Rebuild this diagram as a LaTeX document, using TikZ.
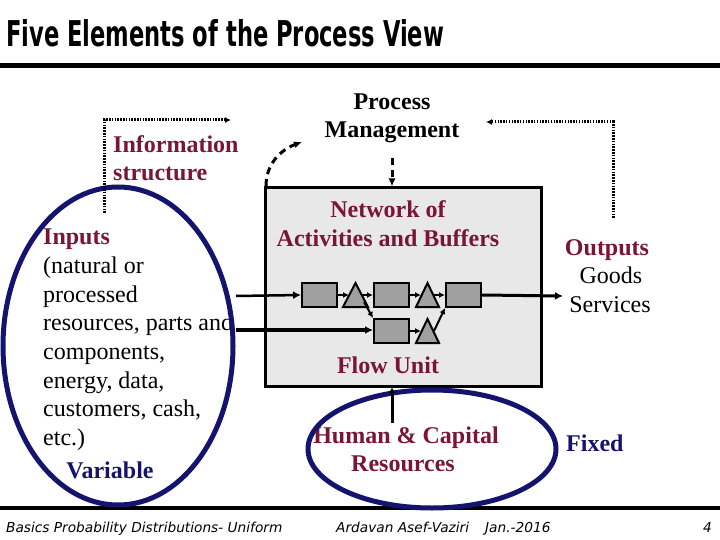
\documentclass[tikz,border=0pt]{standalone}
\usepackage{fontspec}
\setmainfont{Liberation Serif}
\newfontfamily\titlef{DejaVu Sans}
\newfontfamily\footf{DejaVu Sans}
\usetikzlibrary{arrows.meta}
\definecolor{maroon}{RGB}{122,22,52}
\definecolor{navyb}{RGB}{20,20,110}
\definecolor{boxgray}{RGB}{232,232,232}
\definecolor{flowgray}{RGB}{160,160,160}
\tikzset{
  lbl/.style={anchor=base, inner sep=0pt, font=\fontsize{24}{28}\selectfont},
  red/.style={lbl, text=maroon, font=\fontsize{24}{28}\selectfont\bfseries},
  blk/.style={lbl, text=black},
  bblk/.style={lbl, text=black, font=\fontsize{24}{28}\selectfont\bfseries},
  nav/.style={lbl, text=navyb, font=\fontsize{24}{28}\selectfont\bfseries},
  foot/.style={anchor=base west, inner sep=0pt, font=\footf\itshape\fontsize{13.7}{16}\selectfont},
  act/.style={draw=black, line width=2pt, fill=flowgray, minimum width=35pt, minimum height=24pt, inner sep=0pt},
  buf/.style={draw=black, line width=2pt, fill=flowgray},
  fa/.style={-{Latex[length=6pt,width=6pt]}, line width=2pt},
  ma/.style={-{Latex[length=8pt,width=8pt]}, line width=3pt},
  dots/.style={line width=3pt, dash pattern=on 1.5pt off 1.3pt},
  dsh/.style={line width=3pt, dash pattern=on 7pt off 5pt},
  oval/.style={draw=navyb, line width=5pt}
}
\begin{document}
\begin{tikzpicture}[x=1pt,y=-1pt]
\useasboundingbox (0,0) rectangle (720,540);
% title
\node[anchor=base west, inner sep=0pt] (title) at (6,47) {\resizebox{438pt}{27pt}{\titlef\bfseries Five Elements of the Process View}};
\draw[line width=5pt] (0,66) -- (720,66);
\draw[line width=4.5pt] (0,508) -- (720,508);
% footer
\node[foot] (f1) at (6,532) {Basics Probability Distributions- Uniform};
\node[foot] (f2) at (336,532) {Ardavan Asef-Vaziri};
\node[foot] (f3) at (485,532) {Jan.-2016};
\node[foot] (f4) at (703,532) {4};
% gray box
\node[draw=black, line width=3pt, fill=boxgray, minimum width=276pt, minimum height=198pt, inner sep=0pt] (box) at (403,287) {};
\node[red] (net1) at (388,218) {Network of};
\node[red] (net2) at (388,247) {Activities and Buffers};
\node[red] (flow) at (388,373) {Flow Unit};
% flow network
\node[act] (a1) at (319.5,295) {};
\node[act] (a2) at (391.5,295) {};
\node[act] (a3) at (463.5,295) {};
\node[act] (a4) at (391.5,331) {};
\draw[buf] (343,307) -- (355.5,283) -- (368,307) -- cycle;
\draw[buf] (416,307) -- (427.5,283) -- (439,307) -- cycle;
\draw[buf] (416,343) -- (427.5,319) -- (439,343) -- cycle;
\coordinate (t1l) at (349,295);
\coordinate (t1r) at (362,295);
\coordinate (t1d) at (364,302);
\coordinate (t2l) at (421,295);
\coordinate (t2r) at (434,295);
\coordinate (t3l) at (421,331);
\coordinate (t3u) at (434,331);
\draw[fa] (a1.east) -- (t1l);
\draw[fa] (t1r) -- (a2.west);
\draw[fa] (a2.east) -- (t2l);
\draw[fa] (t2r) -- (a3.west);
\draw[fa] (t1d) -- (a4.north west);
\draw[fa] (a4.east) -- (t3l);
\draw[fa] (t3u) -- (a3.south west);
% inputs / outputs lines
\coordinate (in1) at (236,296);
\coordinate (in2) at (236,330);
\coordinate (out) at (563,296);
\draw[ma, line width=2.5pt] (in1) -- (a1.west);
\draw[ma] (a3.east) -- (out);
% left ellipse and inputs text
\node[red, anchor=base west] (inp) at (43,244) {Inputs};
\node[blk, anchor=base west] (i1) at (43,273) {(natural or};
\node[blk, anchor=base west] (i2) at (43,302) {processed};
\node[blk, anchor=base west] (i3) at (43,330) {resources, parts and};
\node[blk, anchor=base west] (i4) at (43,359) {components,};
\node[blk, anchor=base west] (i5) at (43,388) {energy, data,};
\node[blk, anchor=base west] (i6) at (43,416) {customers, cash,};
\node[blk, anchor=base west] (i7) at (43,445) {etc.)};
\node[nav] (var) at (110,478) {Variable};
\draw[oval] (118,346) ellipse [x radius=115pt, y radius=159pt];
\draw[ma, line width=3.5pt] (in2) -- (a4.west |- in2);
% information structure
\node[red, anchor=base west] (info1) at (113,153) {Information};
\node[red, anchor=base west] (info2) at (113,181) {structure};
\coordinate (d0) at (104,213);
\coordinate (d1) at (104,120);
\coordinate (d2) at (231,120);
\draw[dots, -{Latex[length=6pt,width=6pt]}] (d0) -- (d1) -- (d2);
% process management
\node[bblk] (pm1) at (392,110) {Process};
\node[bblk] (pm2) at (392,138) {Management};
\coordinate (pmd) at (392,158);
\draw[dsh, -{Latex[length=8pt,width=7pt]}] (pmd) -- (box.north -| pmd);
\coordinate (cs) at (266,186);
\coordinate (ce) at (302,142);
\draw[dsh, -{Latex[length=8pt,width=7pt]}] (cs) to[out=90, in=200] (ce);
% outputs
\node[red] (op) at (607,255) {Outputs};
\node[blk] (og) at (611,283) {Goods};
\node[blk] (os) at (610,312) {Services};
\coordinate (e0) at (613,218);
\coordinate (e1) at (613,122);
\coordinate (e2) at (486,122);
\draw[dots, -{Latex[length=6pt,width=6pt]}] (e0) -- (e1) -- (e2);
% human & capital
\node[red] (hc1) at (406,443) {Human \& Capital};
\node[red] (hc2) at (403,471) {Resources};
\draw[oval] (432,449) ellipse [x radius=124pt, y radius=59pt];
\coordinate (hcl) at (392,423);
\draw[line width=3pt, -{Latex[length=5pt,width=6pt]}] (hcl) -- (box.south -| hcl);
\node[nav, anchor=base west] (fix) at (566,451) {Fixed};
\end{tikzpicture}
\end{document}
